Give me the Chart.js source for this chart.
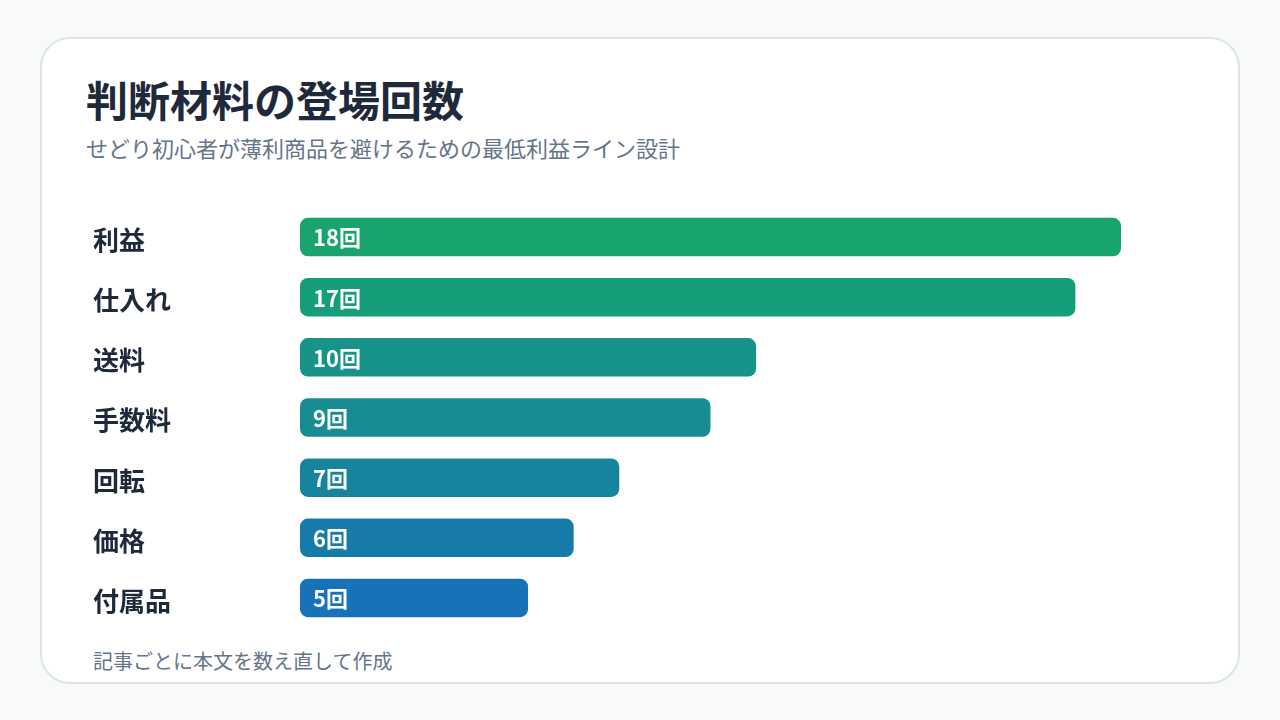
<!DOCTYPE html>
<html lang="ja">
<head>
<meta charset="utf-8">
<script src="https://cdn.jsdelivr.net/npm/chart.js@4.4.1/dist/chart.umd.min.js"></script>
<style>
  html, body { margin: 0; padding: 0; }
  body {
    width: 1280px; height: 720px; background: #f8faf8; position: relative;
    font-family: "Noto Sans CJK JP", "Noto Sans", sans-serif; overflow: hidden;
  }
  .card {
    position: absolute; left: 40px; top: 37px; width: 1196px; height: 643px;
    background: #fff; border: 2px solid #dde3ec; border-radius: 30px;
  }
  h1 {
    position: absolute; left: 86px; top: 74px; margin: 0;
    font-size: 42px; font-weight: 700; color: #1e293b; line-height: 1.2;
  }
  .sub {
    position: absolute; left: 86px; top: 134px; margin: 0;
    font-size: 22px; color: #64748b; line-height: 1.2;
  }
  .note {
    position: absolute; left: 93px; top: 649px; margin: 0;
    font-size: 20px; color: #64748b; line-height: 1.2;
  }
  .wrap { position: absolute; left: 93px; top: 207px; width: 1028px; height: 421px; }
</style>
</head>
<body>
<div class="card"></div>
<h1>判断材料の登場回数</h1>
<p class="sub">せどり初心者が薄利商品を避けるための最低利益ライン設計</p>
<div class="wrap"><canvas id="chart"></canvas></div>
<p class="note">記事ごとに本文を数え直して作成</p>

<script>
// Data
const categories = ["利益", "仕入れ", "送料", "手数料", "回転", "価格", "付属品"];
const counts = [18, 17, 10, 9, 7, 6, 5];
const barColors = ["#18a46c", "#169e7a", "#179389", "#178c92", "#17849e", "#177ba9", "#1772b7"];

// Draw "N回" inside each bar
const valueLabels = {
  id: "valueLabels",
  afterDatasetsDraw(chart) {
    const ctx = chart.ctx;
    const meta = chart.getDatasetMeta(0);
    ctx.save();
    ctx.fillStyle = "#ffffff";
    ctx.font = "bold 22px 'Noto Sans CJK JP', sans-serif";
    ctx.textBaseline = "middle";
    ctx.textAlign = "left";
    meta.data.forEach((bar, i) => {
      ctx.fillText(counts[i] + "回", bar.base + 13, bar.y + 1);
    });
    ctx.restore();
  }
};

const ctx = document.getElementById("chart").getContext("2d");
new Chart(ctx, {
  type: "bar",
  data: {
    labels: categories,
    datasets: [{
      data: counts,
      backgroundColor: barColors,
      borderRadius: 8,
      borderSkipped: false,
      barPercentage: 0.64,
      categoryPercentage: 1
    }]
  },
  options: {
    indexAxis: "y",
    responsive: true,
    maintainAspectRatio: false,
    animation: false,
    layout: { padding: 0 },
    plugins: { legend: { display: false }, tooltip: { enabled: false } },
    scales: {
      x: { display: false, min: 0, max: Math.max(...counts) },
      y: {
        grid: { display: false },
        border: { display: false },
        ticks: {
          crossAlign: "far",
          labelOffset: 3,
          color: "#1e293b",
          font: { family: "'Noto Sans CJK JP', sans-serif", size: 26, weight: "bold" }
        },
        afterFit(scale) {
          scale.width = 207;
          scale.paddingTop = 0;
          scale.paddingBottom = 0;
        }
      }
    }
  },
  plugins: [valueLabels]
});
</script>
</body>
</html>
